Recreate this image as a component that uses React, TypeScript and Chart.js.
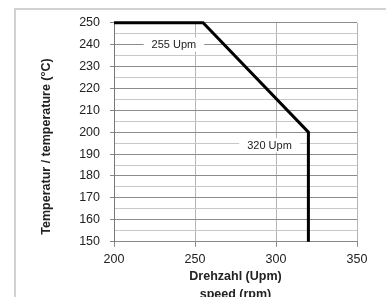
import React, { useEffect, useRef } from "react";
import { Chart, registerables } from "chart.js";

Chart.register(...registerables);

// data
const speedRpm = [200, 255, 320, 320];
const tempC = [250, 250, 200, 150];
const xTicks = { min: 200, max: 350, step: 50 };
const yTicks = { min: 150, max: 250, step: 5, labelStep: 10 };
const noteTexts = ["255 Upm", "320 Upm"];
const noteX = [237, 296];
const noteY = [240, 194];
const yTitle = "Temperatur / temperature (°C)";
const xTitle = ["Drehzahl (Upm)", "speed (rpm)"];

const FONT = "'Liberation Sans', Arial, sans-serif";

const framePlugin = {
  id: "frame",
  beforeDraw(chart: any) {
    const { ctx } = chart;
    ctx.save();
    ctx.fillStyle = "#ffffff";
    ctx.fillRect(0, 0, chart.width, chart.height);
    ctx.strokeStyle = "#d2d2d2";
    ctx.lineWidth = 2;
    ctx.beginPath();
    ctx.moveTo(386, 9);
    ctx.lineTo(15, 9);
    ctx.lineTo(15, 297);
    ctx.stroke();
    ctx.restore();
  },
  afterDraw(chart: any) {
    const { ctx } = chart;
    ctx.save();
    ctx.translate(47, 146.5);
    ctx.rotate(-Math.PI / 2);
    ctx.font = `bold 12.5px ${FONT}`;
    ctx.fillStyle = "#222";
    ctx.textAlign = "center";
    ctx.textBaseline = "middle";
    ctx.fillText(yTitle, 0, 0);
    ctx.restore();
  },
};

const notesPlugin = {
  id: "notes",
  afterDatasetsDraw(chart: any) {
    const { ctx, scales } = chart;
    ctx.save();
    ctx.font = `11px ${FONT}`;
    ctx.textAlign = "center";
    ctx.textBaseline = "middle";
    noteTexts.forEach((t, i) => {
      const px = scales.x.getPixelForValue(noteX[i]);
      const py = scales.y.getPixelForValue(noteY[i]);
      const w = ctx.measureText(t).width + 16;
      ctx.fillStyle = "#ffffff";
      ctx.fillRect(px - w / 2, py - 7, w, 14);
      ctx.fillStyle = "#222";
      ctx.fillText(t, px, py + 0.5);
    });
    ctx.restore();
  },
};

export default function App() {
  const ref = useRef<HTMLCanvasElement>(null);
  useEffect(() => {
    const chart = new Chart(ref.current!, {
      type: "line",
      data: {
        datasets: [
          {
            data: speedRpm.map((x, i) => ({ x, y: tempC[i] })),
            borderColor: "#000",
            borderWidth: 3,
            pointRadius: 0,
            fill: false,
            tension: 0,
            clip: false as any,
          },
        ],
      },
      options: {
        responsive: false,
        animation: false,
        layout: { padding: { top: 22.7, right: 29, left: 0, bottom: 0 } },
        plugins: { legend: { display: false }, tooltip: { enabled: false } },
        scales: {
          x: {
            type: "linear",
            min: xTicks.min,
            max: xTicks.max,
            afterFit: (s: any) => {
              s.height = 297 - 241.7;
            },
            ticks: {
              stepSize: xTicks.step,
              color: "#222",
              font: { family: FONT, size: 12.5 },
              padding: 5,
            },
            grid: { color: "#b4b4b4", tickLength: 5, tickColor: "#888" },
            border: { color: "#888", width: 1 },
            title: {
              display: true,
              text: xTitle,
              color: "#222",
              font: { family: FONT, size: 12.5, weight: "bold", lineHeight: "18px" as any },
              padding: { top: 0, bottom: -7 },
            },
          },
          y: {
            type: "linear",
            min: yTicks.min,
            max: yTicks.max,
            afterFit: (s: any) => {
              s.width = 114;
            },
            ticks: {
              stepSize: yTicks.step,
              autoSkip: false,
              color: "#222",
              font: { family: FONT, size: 12.5 },
              padding: 10,
              callback: (v: any) => (v % yTicks.labelStep === 0 ? String(v) : ""),
            },
            grid: {
              color: (c: any) => (c.tick && c.tick.value % yTicks.labelStep === 0 ? "#8c8c8c" : "#c8c8c8"),
              tickLength: 4,
              tickColor: (c: any) => (c.tick && c.tick.value % yTicks.labelStep === 0 ? "#888" : "rgba(0,0,0,0)"),
            },
            border: { color: "#777", width: 1 },
          },
        },
      },
      plugins: [framePlugin, notesPlugin],
    });
    return () => chart.destroy();
  }, []);
  return (
    <div style={{ position: "fixed", left: 0, top: 0, width: 386, height: 297 }}>
      <canvas ref={ref} width={386} height={297} />
    </div>
  );
}
